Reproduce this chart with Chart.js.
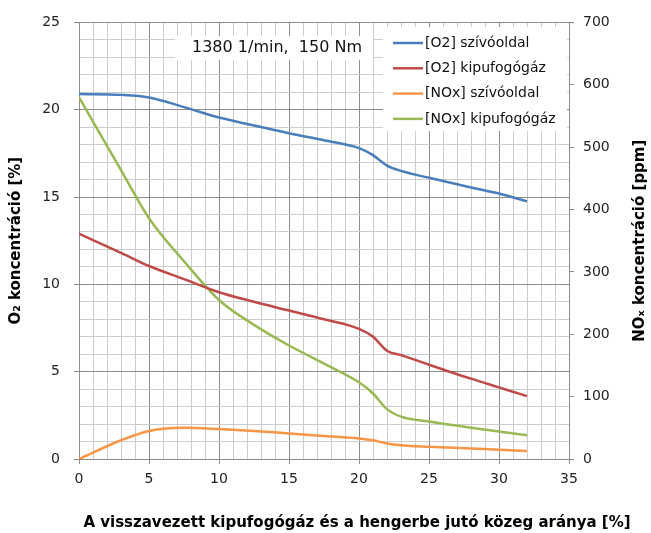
<!doctype html>
<html lang="hu">
<head>
    <meta charset="utf-8">
    <title>O2 és NOx koncentráció - chartjs</title>
    <script src="https://cdn.jsdelivr.net/npm/chart.js"></script>
    <style>
        html, body { margin:0; padding:0; background:#fff; }
        #wrap { width:651px; height:533px; }
    </style>
    <script>
        // adatok
        const xValues   = [0, 3, 5, 7.5, 10, 12.5, 15, 17.5, 20, 21, 22, 23, 25, 28, 30, 32];
        const o2Intake  = [20.9, 20.85, 20.7, 20.15, 19.55, 19.1, 18.65, 18.25, 17.8, 17.4, 16.8, 16.5, 16.1, 15.55, 15.2, 14.75];
        const o2Exhaust = [12.9, 11.8, 11.05, 10.3, 9.55, 9.0, 8.5, 8.0, 7.45, 7.0, 6.2, 5.95, 5.4, 4.6, 4.1, 3.6];
        const noxIntake = [0, 30, 45, 50, 48, 45, 41, 37, 33, 30, 25, 22, 19.5, 17, 15, 13];
        const noxExhaust= [580, 463, 386, 317, 255, 215, 182, 153, 123, 105, 80, 68, 60, 50, 44, 38];

        const seriesNames = ['[O2] szívóoldal', '[O2] kipufogógáz', '[NOx] szívóoldal', '[NOx] kipufogógáz'];
        const seriesColors = ['#4a7ebb', '#be4b48', '#f79646', '#98b954'];

        const xTitle = 'A visszavezett kipufogógáz és a hengerbe jutó közeg aránya [%]';
        const yTitle = 'O₂ koncentráció [%]';
        const y1Title = 'NOₓ koncentráció [ppm]';
        const noteText = '1380 1/min,  150 Nm';

        const FONT = '"DejaVu Sans", sans-serif';
        const MAJOR = '#8c8c8c';
        const MINOR = '#cccccc';
    </script>
    <script>
        // feliratok, legenda, megjegyzés doboz
        const extraText = {
            id: 'extraText',
            afterDraw(chart) {
                const ctx = chart.ctx;
                const a = chart.chartArea;
                ctx.save();

                // megjegyzés doboz
                ctx.fillStyle = '#fff';
                ctx.fillRect(175, 36, 198, 24);
                ctx.fillStyle = '#111';
                ctx.font = '16px ' + FONT;
                ctx.textBaseline = 'middle';
                ctx.textAlign = 'left';
                ctx.fillText(noteText, 192, 48);

                // legenda
                ctx.fillStyle = '#fff';
                ctx.fillRect(383, 27, 184, 104);
                ctx.font = '14px ' + FONT;
                seriesNames.forEach((name, i) => {
                    const y = 43 + i * 25.3;
                    ctx.strokeStyle = seriesColors[i];
                    ctx.lineWidth = 2.5;
                    ctx.beginPath();
                    ctx.moveTo(393, y);
                    ctx.lineTo(423, y);
                    ctx.stroke();
                    ctx.fillStyle = '#111';
                    ctx.fillText(name, 425, y);
                });

                // tengely címek
                ctx.fillStyle = '#000';
                ctx.font = 'bold 15px ' + FONT;
                ctx.textAlign = 'center';
                ctx.fillText(xTitle, 357, 523);

                const cy = (a.top + a.bottom) / 2;
                ctx.translate(16, cy);
                ctx.rotate(-Math.PI / 2);
                ctx.fillText(yTitle, 0, 0);
                ctx.rotate(Math.PI / 2);
                ctx.translate(-16, -cy);

                ctx.translate(640, cy);
                ctx.rotate(-Math.PI / 2);
                ctx.fillText(y1Title, 0, 0);
                ctx.restore();
            }
        };

        function toPoints(ys) {
            return xValues.map((x, i) => ({ x: x, y: ys[i] }));
        }

        window.addEventListener('load', () => {
            const ctx = document.querySelector('canvas#chart-0');
            const allSeries = [o2Intake, o2Exhaust, noxIntake, noxExhaust];
            const axisOf = ['y', 'y', 'y1', 'y1'];

            const datasets = allSeries.map((ys, i) => ({
                label: seriesNames[i],
                data: toPoints(ys),
                yAxisID: axisOf[i],
                borderColor: seriesColors[i],
                backgroundColor: seriesColors[i],
                borderWidth: 2.5,
                pointRadius: 0,
                tension: 0.4,
                cubicInterpolationMode: 'monotone',
            }));

            const tickFont = { family: FONT, size: 14 };

            window.myChart0 = new Chart(ctx, {
                type: 'line',
                data: { datasets: datasets },
                plugins: [extraText],
                options: {
                    maintainAspectRatio: false,
                    animation: false,
                    layout: { padding: { top: 20, right: 0, bottom: 0, left: 0 } },
                    plugins: {
                        legend: { display: false },
                        tooltip: { enabled: false },
                    },
                    scales: {
                        x: {
                            type: 'linear',
                            min: 0, max: 35,
                            afterFit: (s) => { s.height = 74; },
                            border: { color: MAJOR },
                            grid: {
                                color: (c) => c.tick && c.tick.value % 5 === 0 ? MAJOR : MINOR,
                                tickColor: (c) => c.tick && c.tick.value % 5 === 0 ? MAJOR : 'transparent',
                                tickLength: 5,
                            },
                            ticks: {
                                stepSize: 1, autoSkip: false, maxRotation: 0,
                                padding: 7, color: '#222', font: tickFont,
                                callback: (v) => v % 5 === 0 ? v : '',
                            },
                        },
                        y: {
                            position: 'left',
                            min: 0, max: 25,
                            afterFit: (s) => { s.width = 79; },
                            border: { color: MAJOR },
                            grid: {
                                color: (c) => c.tick && c.tick.value % 5 === 0 ? MAJOR : MINOR,
                                tickColor: (c) => c.tick && c.tick.value % 5 === 0 ? MAJOR : 'transparent',
                                tickLength: 5,
                            },
                            ticks: {
                                stepSize: 1, autoSkip: false,
                                padding: 14, color: '#222', font: tickFont,
                                callback: (v) => v % 5 === 0 ? v : '',
                            },
                        },
                        y1: {
                            position: 'right',
                            min: 0, max: 700,
                            afterFit: (s) => { s.width = 82; },
                            border: { color: MAJOR },
                            grid: { drawOnChartArea: false, tickColor: MAJOR, tickLength: 5 },
                            ticks: { stepSize: 100, padding: 9, color: '#222', font: tickFont },
                        },
                    },
                },
            });
        });
    </script>
</head>
<body>
    <div id="wrap"><canvas id="chart-0"></canvas></div>
</body>
</html>
